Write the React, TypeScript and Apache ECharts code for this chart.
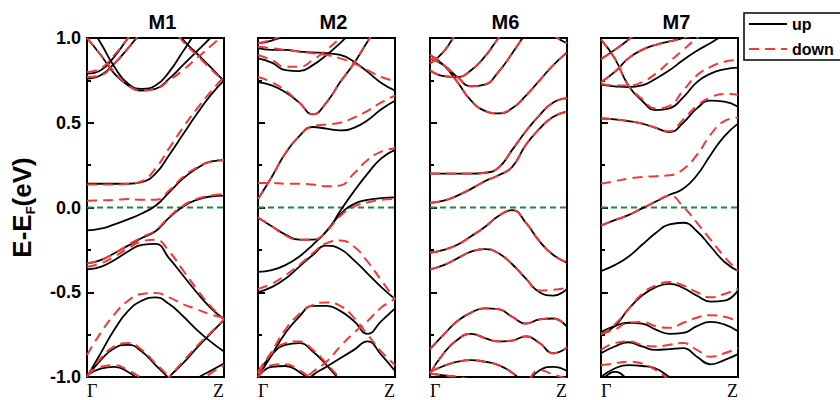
import React, { useEffect, useRef } from "react";
import * as echarts from "echarts";

// k-path sample points (Γ = 0, Z = 1)
const kPoints = [0, 0.1, 0.2, 0.3, 0.4, 0.5, 0.6, 0.7, 0.8, 0.9, 1];
const panelTitles = ["M1", "M2", "M6", "M7"];
const yTicks = [-1, -0.5, 0, 0.5, 1];
const kLabels = ["Γ", "Z"];
const legendNames = ["up", "down"];

// ---------- M1 ----------
const m1Up = [
  [-0.99, -0.95, -0.94, -0.97, -1.03, -1.1, -1.2, -1.3, -1.3, -1.3, -1.3],
  [-1.0, -0.9, -0.83, -0.81, -0.85, -0.93, -1.01, -1.1, -1.2, -1.3, -1.3],
  [-1.3, -1.3, -1.3, -1.25, -1.18, -1.1, -1.0, -0.92, -0.83, -0.745, -0.665],
  [-1.3, -1.3, -1.3, -1.3, -1.3, -1.25, -1.17, -1.08, -1.01, -0.965, -0.92],
  [-1.0, -0.86, -0.72, -0.61, -0.55, -0.53, -0.57, -0.64, -0.72, -0.79, -0.85],
  [-0.365, -0.35, -0.31, -0.26, -0.22, -0.215, -0.3, -0.4, -0.5, -0.59, -0.66],
  [-0.33, -0.31, -0.27, -0.225, -0.18, -0.14, -0.06, 0.005, 0.045, 0.065, 0.07],
  [-0.135, -0.125, -0.1, -0.07, -0.035, 0.01, 0.09, 0.17, 0.23, 0.27, 0.28],
  [0.14, 0.14, 0.14, 0.14, 0.15, 0.2, 0.31, 0.43, 0.55, 0.66, 0.75],
  [1.0, 0.9, 0.79, 0.72, 0.69, 0.7, 0.76, 0.84, 0.92, 1.0, 1.08],
  [1.1, 0.97, 0.83, 0.73, 0.7, 0.72, 0.8, 0.92, 1.04, 1.15, 1.25],
  [0.79, 0.81, 0.89, 1.0, 1.1, 1.2, 1.3, 1.3, 1.3, 1.3, 1.3],
  [0.76, 0.78, 0.85, 0.94, 1.04, 1.15, 1.3, 1.3, 1.3, 1.3, 1.3],
  [1.3, 1.3, 1.3, 1.3, 1.25, 1.18, 1.1, 0.99, 0.91, 0.83, 0.745],
];
const m1Down = [
  [-0.99, -0.94, -0.93, -0.96, -1.01, -1.08, -1.2, -1.3, -1.3, -1.3, -1.3],
  [-1.0, -0.89, -0.82, -0.8, -0.84, -0.92, -1.0, -1.1, -1.2, -1.3, -1.3],
  [-1.3, -1.3, -1.3, -1.25, -1.18, -1.1, -1.0, -0.91, -0.82, -0.74, -0.66],
  [-1.3, -1.3, -1.3, -1.3, -1.3, -1.3, -1.22, -1.12, -1.04, -0.98, -0.93],
  [-0.87, -0.74, -0.63, -0.55, -0.51, -0.505, -0.53, -0.57, -0.6, -0.63, -0.65],
  [-0.35, -0.33, -0.29, -0.24, -0.2, -0.19, -0.26, -0.37, -0.48, -0.58, -0.66],
  [-0.33, -0.31, -0.27, -0.22, -0.175, -0.135, -0.055, 0.01, 0.05, 0.07, 0.08],
  [0.04, 0.042, 0.045, 0.05, 0.045, 0.045, 0.1, 0.18, 0.235, 0.27, 0.28],
  [0.135, 0.135, 0.135, 0.14, 0.155, 0.23, 0.35, 0.47, 0.58, 0.68, 0.77],
  [1.0, 0.9, 0.8, 0.72, 0.69, 0.7, 0.75, 0.81, 0.88, 0.95, 1.02],
  [0.8, 0.82, 0.9, 1.0, 1.1, 1.2, 1.3, 1.3, 1.3, 1.3, 1.3],
  [0.77, 0.78, 0.85, 0.94, 1.04, 1.15, 1.3, 1.3, 1.3, 1.3, 1.3],
  [1.3, 1.3, 1.3, 1.3, 1.25, 1.17, 1.08, 0.98, 0.9, 0.82, 0.745],
];

// ---------- M2 ----------
const m2Up = [
  [-1.0, -0.94, -0.935, -0.97, -1.03, -1.1, -1.2, -1.3, -1.3, -1.3, -1.3],
  [-0.98, -0.87, -0.81, -0.8, -0.85, -0.93, -1.02, -1.1, -1.2, -1.3, -1.3],
  [-1.3, -1.3, -1.2, -1.08, -0.99, -0.94, -0.89, -0.84, -0.79, -0.87, -0.965],
  [-1.0, -0.87, -0.74, -0.645, -0.58, -0.58, -0.61, -0.67, -0.745, -0.67, -0.595],
  [-0.5, -0.47, -0.42, -0.35, -0.28, -0.225, -0.245, -0.31, -0.39, -0.47, -0.54],
  [-0.06, -0.11, -0.16, -0.19, -0.19, -0.14, -0.02, 0.095, 0.2, 0.29, 0.34],
  [-0.38, -0.37, -0.34, -0.29, -0.22, -0.14, -0.04, 0.02, 0.045, 0.055, 0.06],
  [0.05, 0.18, 0.32, 0.42, 0.475, 0.465, 0.455, 0.47, 0.515, 0.58, 0.63],
  [0.74, 0.72, 0.68, 0.62, 0.55, 0.62, 0.74, 0.85, 0.98, 1.1, 1.2],
  [0.88, 0.855, 0.81, 0.805, 0.84, 0.9, 0.97, 1.05, 1.12, 1.2, 1.3],
  [0.94, 0.93, 0.93, 0.92, 0.915, 0.91, 0.9, 0.86, 0.8, 0.735, 0.69],
  [0.97, 0.985, 1.02, 1.1, 1.2, 1.3, 1.3, 1.3, 1.3, 1.3, 1.3],
];
const m2Down = [
  [-1.0, -0.93, -0.925, -0.96, -1.02, -1.1, -1.2, -1.3, -1.3, -1.3, -1.3],
  [-0.97, -0.86, -0.8, -0.79, -0.84, -0.92, -1.01, -1.1, -1.2, -1.3, -1.3],
  [-1.3, -1.3, -1.2, -1.04, -0.97, -0.91, -0.82, -0.74, -0.67, -0.59, -0.54],
  [-0.98, -0.85, -0.72, -0.63, -0.575, -0.56, -0.58, -0.65, -0.75, -0.85, -0.93],
  [-0.48, -0.45, -0.4, -0.34, -0.27, -0.21, -0.195, -0.23, -0.32, -0.43, -0.54],
  [-0.06, -0.11, -0.165, -0.19, -0.19, -0.14, -0.05, 0.005, 0.03, 0.045, 0.05],
  [0.145, 0.145, 0.14, 0.14, 0.135, 0.125, 0.13, 0.2, 0.28, 0.33, 0.35],
  [0.05, 0.18, 0.32, 0.42, 0.48, 0.49, 0.5, 0.53, 0.57, 0.62, 0.66],
  [0.77, 0.74, 0.69, 0.62, 0.55, 0.62, 0.74, 0.85, 0.98, 1.1, 1.2],
  [0.9, 0.87, 0.83, 0.83, 0.87, 0.93, 1.0, 1.08, 1.15, 1.25, 1.3],
  [0.95, 0.94, 0.93, 0.92, 0.91, 0.9, 0.88, 0.85, 0.81, 0.77, 0.745],
  [0.97, 0.99, 1.03, 1.1, 1.2, 1.3, 1.3, 1.3, 1.3, 1.3, 1.3],
];

// ---------- M6 ----------
const m6Up = [
  [0.027, 0.04, 0.07, 0.11, 0.155, 0.19, 0.24, 0.37, 0.465, 0.535, 0.565],
  [0.2, 0.2, 0.2, 0.2, 0.205, 0.235, 0.34, 0.45, 0.545, 0.62, 0.645],
  [0.9, 0.84, 0.74, 0.63, 0.57, 0.555, 0.585, 0.66, 0.75, 0.84, 0.915],
  [0.88, 0.84, 0.77, 0.715, 0.725, 0.8, 0.91, 1.03, 1.15, 1.25, 1.3],
  [0.81, 0.775, 0.77, 0.81, 0.89, 1.0, 1.1, 1.2, 1.3, 1.3, 1.3],
  [0.85, 0.92, 1.04, 1.15, 1.3, 1.3, 1.3, 1.3, 1.3, 1.3, 1.3],
  [1.3, 1.3, 1.3, 1.3, 1.3, 1.3, 1.3, 1.22, 1.12, 1.02, 0.97],
  [-0.267, -0.25, -0.22, -0.17, -0.115, -0.05, -0.015, -0.09, -0.2, -0.28, -0.325],
  [-0.365, -0.34, -0.3, -0.26, -0.245, -0.27, -0.335, -0.42, -0.5, -0.52, -0.48],
  [-0.835, -0.75, -0.67, -0.62, -0.595, -0.6, -0.645, -0.685, -0.66, -0.655, -0.705],
  [-0.98, -0.86, -0.78, -0.745, -0.77, -0.79, -0.785, -0.76, -0.8, -0.86, -0.825],
  [-0.97, -0.935, -0.91, -0.9, -0.91, -0.93, -0.975, -1.05, -1.15, -1.25, -1.3],
  [-0.98, -0.99, -1.0, -1.02, -1.06, -1.1, -1.2, -1.3, -1.3, -1.3, -1.3],
  [-1.3, -1.3, -1.3, -1.3, -1.3, -1.3, -1.15, -1.05, -0.96, -0.94, -0.965],
];
const m6Down = [
  [0.027, 0.04, 0.07, 0.11, 0.155, 0.19, 0.24, 0.37, 0.465, 0.535, 0.565],
  [0.2, 0.2, 0.2, 0.2, 0.205, 0.235, 0.34, 0.45, 0.545, 0.62, 0.645],
  [0.9, 0.84, 0.74, 0.63, 0.57, 0.555, 0.585, 0.66, 0.75, 0.84, 0.915],
  [0.88, 0.84, 0.77, 0.715, 0.725, 0.8, 0.91, 1.03, 1.15, 1.25, 1.3],
  [0.81, 0.775, 0.77, 0.81, 0.89, 1.0, 1.1, 1.2, 1.3, 1.3, 1.3],
  [0.85, 0.92, 1.04, 1.15, 1.3, 1.3, 1.3, 1.3, 1.3, 1.3, 1.3],
  [1.3, 1.3, 1.3, 1.3, 1.3, 1.3, 1.3, 1.22, 1.12, 1.02, 0.97],
  [-0.267, -0.25, -0.22, -0.17, -0.115, -0.05, -0.015, -0.09, -0.2, -0.28, -0.325],
  [-0.365, -0.34, -0.3, -0.26, -0.245, -0.27, -0.335, -0.42, -0.49, -0.485, -0.475],
  [-0.835, -0.75, -0.67, -0.62, -0.595, -0.6, -0.645, -0.685, -0.66, -0.655, -0.705],
  [-0.98, -0.86, -0.78, -0.745, -0.77, -0.79, -0.785, -0.76, -0.8, -0.86, -0.825],
  [-0.97, -0.935, -0.91, -0.9, -0.91, -0.93, -0.975, -1.05, -1.15, -1.25, -1.3],
  [-0.98, -0.99, -1.0, -1.02, -1.06, -1.1, -1.2, -1.3, -1.3, -1.3, -1.3],
  [-1.3, -1.3, -1.3, -1.3, -1.3, -1.3, -1.15, -1.05, -0.96, -0.985, -1.01],
];

// ---------- M7 ----------
const m7Up = [
  [-0.107, -0.075, -0.045, -0.005, 0.035, 0.075, 0.11, 0.19, 0.31, 0.42, 0.495],
  [-0.375, -0.34, -0.29, -0.22, -0.15, -0.1, -0.09, -0.14, -0.23, -0.32, -0.375],
  [-0.75, -0.7, -0.6, -0.52, -0.47, -0.45, -0.475, -0.52, -0.555, -0.55, -0.49],
  [-0.735, -0.7, -0.68, -0.685, -0.72, -0.745, -0.74, -0.7, -0.675, -0.69, -0.73],
  [-0.86, -0.82, -0.795, -0.82, -0.84, -0.835, -0.83, -0.88, -0.925, -0.9, -0.865],
  [-1.0, -0.95, -0.93, -0.935, -0.95, -1.0, -1.05, -1.15, -1.25, -1.3, -1.3],
  [-1.03, -0.97, -1.02, -1.1, -1.2, -1.3, -1.3, -1.3, -1.3, -1.3, -1.3],
  [0.525, 0.52, 0.51, 0.495, 0.47, 0.445, 0.5, 0.585, 0.63, 0.625, 0.595],
  [0.99, 0.88, 0.72, 0.63, 0.575, 0.585, 0.65, 0.74, 0.79, 0.815, 0.825],
  [0.725, 0.715, 0.71, 0.72, 0.76, 0.81, 0.87, 0.925, 0.97, 1.02, 1.06],
  [0.875, 0.93, 0.99, 1.06, 1.15, 1.3, 1.3, 1.3, 1.3, 1.3, 1.3],
  [0.74, 0.8, 0.88, 0.93, 0.96, 0.98, 1.0, 1.03, 1.1, 1.2, 1.3],
];
const m7Down = [
  [-0.107, -0.075, -0.045, -0.005, 0.035, 0.07, 0.005, -0.09, -0.19, -0.29, -0.375],
  [0.14, 0.155, 0.17, 0.18, 0.185, 0.19, 0.225, 0.31, 0.43, 0.51, 0.53],
  [-0.75, -0.69, -0.6, -0.51, -0.46, -0.44, -0.46, -0.5, -0.53, -0.51, -0.48],
  [-0.745, -0.72, -0.68, -0.675, -0.7, -0.71, -0.68, -0.65, -0.635, -0.645, -0.67],
  [-0.84, -0.8, -0.79, -0.81, -0.82, -0.81, -0.8, -0.84, -0.88, -0.86, -0.83],
  [-0.93, -0.92, -0.91, -0.92, -0.96, -1.02, -1.1, -1.2, -1.3, -1.3, -1.3],
  [0.525, 0.52, 0.51, 0.495, 0.47, 0.45, 0.52, 0.6, 0.65, 0.67, 0.665],
  [0.99, 0.88, 0.72, 0.64, 0.585, 0.6, 0.69, 0.78, 0.83, 0.86, 0.87],
  [0.73, 0.72, 0.72, 0.74, 0.79, 0.86, 0.93, 1.0, 1.06, 1.12, 1.2],
  [0.875, 0.93, 0.99, 1.06, 1.15, 1.3, 1.3, 1.3, 1.3, 1.3, 1.3],
  [0.74, 0.8, 0.88, 0.93, 0.96, 0.98, 1.0, 1.03, 1.1, 1.2, 1.3],
];

const fermiLevel = [0, 0];

const upBands = [m1Up, m2Up, m6Up, m7Up];
const downBands = [m1Down, m2Down, m6Down, m7Down];

const SANS = "'Liberation Sans', Arial, Helvetica, sans-serif";
const SERIF = "'Liberation Serif', 'Times New Roman', serif";
const GRID_LEFT = [87, 258, 430, 601];
const GRID_TOP = 38;
const GRID_W = 137;
const GRID_H = 341;
const UP_COLOR = "#000000";
const DOWN_COLOR = "#f03a3a";
const EF_COLOR = "#1e8a36";

function buildOption() {
  const grid = GRID_LEFT.map((l) => ({
    left: l,
    top: GRID_TOP,
    width: GRID_W,
    height: GRID_H,
    show: true,
    borderColor: "#000",
    borderWidth: 2,
    backgroundColor: "transparent",
  }));

  const xAxis = GRID_LEFT.map((_, i) => ({
    gridIndex: i,
    type: "value",
    min: 0,
    max: 1,
    interval: 1,
    axisLine: { show: false },
    axisTick: { show: false },
    splitLine: { show: false },
    axisLabel: {
      show: true,
      formatter: (v: number) => (v === 0 ? kLabels[0] : kLabels[1]),
      fontFamily: SERIF,
      fontSize: 18,
      color: "#000",
      margin: 5,
      alignMinLabel: "left",
      alignMaxLabel: "right",
    },
  }));

  const yAxis = GRID_LEFT.map((_, i) => ({
    gridIndex: i,
    type: "value",
    min: yTicks[0],
    max: yTicks[yTicks.length - 1],
    interval: 0.5,
    axisLine: { show: false },
    splitLine: { show: false },
    minorSplitLine: { show: false },
    axisTick: { show: true, inside: true, length: 7, lineStyle: { color: "#000", width: 2 } },
    minorTick: { show: true, splitNumber: 2, length: 4, lineStyle: { color: "#000", width: 2 } },
    axisLabel: {
      show: i === 0,
      formatter: (v: number) => v.toFixed(1),
      fontFamily: SANS,
      fontSize: 18,
      fontWeight: "bold",
      color: "#000",
      margin: 6,
    },
    name: i === 0 ? "{a|E-E}{s|F}{a|(eV)}" : "",
    nameLocation: "middle",
    nameRotate: 90,
    nameGap: 50,
    nameTextStyle: {
      rich: {
        a: { fontFamily: SANS, fontSize: 26, fontWeight: "bold", color: "#000", lineHeight: 30 },
        s: {
          fontFamily: SANS,
          fontSize: 13,
          fontWeight: "bold",
          color: "#000",
          lineHeight: 14,
          verticalAlign: "bottom",
        },
      },
    },
  }));

  const series: any[] = [];
  GRID_LEFT.forEach((_, i) => {
    series.push({
      type: "line",
      name: "EF",
      xAxisIndex: i,
      yAxisIndex: i,
      data: [
        [0, fermiLevel[0]],
        [1, fermiLevel[1]],
      ],
      symbol: "none",
      silent: true,
      z: 2,
      lineStyle: { color: EF_COLOR, width: 2, type: [6, 4] },
      itemStyle: { color: EF_COLOR },
    });
    upBands[i].forEach((band) => {
      series.push({
        type: "line",
        name: legendNames[0],
        xAxisIndex: i,
        yAxisIndex: i,
        data: kPoints.map((k, j) => [k, band[j]]),
        smooth: 0.5,
        symbol: "none",
        silent: true,
        clip: true,
        z: 3,
        lineStyle: { color: UP_COLOR, width: 1.8 },
        itemStyle: { color: UP_COLOR },
      });
    });
    downBands[i].forEach((band) => {
      series.push({
        type: "line",
        name: legendNames[1],
        xAxisIndex: i,
        yAxisIndex: i,
        data: kPoints.map((k, j) => [k, band[j]]),
        smooth: 0.5,
        symbol: "none",
        silent: true,
        clip: true,
        z: 4,
        lineStyle: { color: DOWN_COLOR, width: 2, type: [10, 6] },
        itemStyle: { color: DOWN_COLOR },
      });
    });
  });

  const graphic = panelTitles.map((t, i) => ({
    type: "text",
    x: GRID_LEFT[i] + GRID_W / 2 + 7,
    y: 22,
    style: {
      text: t,
      align: "center",
      verticalAlign: "middle",
      fontFamily: SANS,
      fontSize: 20,
      fontWeight: "bold",
      fill: "#000",
    },
  }));

  return {
    animation: false,
    backgroundColor: "#fff",
    grid,
    xAxis,
    yAxis,
    series,
    graphic,
    legend: {
      data: legendNames,
      orient: "vertical",
      left: 744,
      top: 13,
      itemWidth: 38,
      itemHeight: 14,
      itemGap: 9,
      padding: [3, 60, 3, 4],
      borderColor: "#000",
      borderWidth: 1.5,
      backgroundColor: "#fff",
      selectedMode: false,
      itemStyle: { opacity: 0, borderWidth: 0 },
      textStyle: { fontFamily: SANS, fontSize: 16, fontWeight: "bold", color: "#000" },
    },
  };
}

export default function App() {
  const ref = useRef<HTMLDivElement>(null);
  useEffect(() => {
    document.body.style.margin = "0";
    if (!ref.current) return;
    const chart = echarts.init(ref.current, undefined, { renderer: "svg" });
    chart.setOption(buildOption() as any);
    return () => chart.dispose();
  }, []);
  return <div ref={ref} style={{ width: 840, height: 400 }} />;
}
